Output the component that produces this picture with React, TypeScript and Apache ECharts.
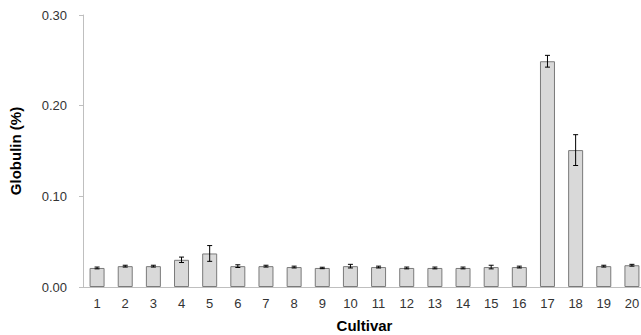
import React, { useEffect, useRef } from "react";
import * as echarts from "echarts";

const categories = ["1","2","3","4","5","6","7","8","9","10","11","12","13","14","15","16","17","18","19","20"];
const means = [0.021,0.023,0.023,0.030,0.037,0.023,0.023,0.022,0.021,0.023,0.022,0.021,0.021,0.021,0.022,0.022,0.249,0.151,0.023,0.024];
const errors = [0.001,0.001,0.001,0.003,0.0087,0.0015,0.001,0.001,0.0008,0.002,0.001,0.001,0.001,0.001,0.002,0.001,0.0065,0.017,0.001,0.001];
const yTicks = [0, 0.1, 0.2, 0.3];

export default function App() {
  const ref = useRef<HTMLDivElement>(null);
  useEffect(() => {
    if (!ref.current) return;
    const chart = echarts.init(ref.current, undefined, { renderer: "svg" });
    const errData = means.map((m, i) => [i, m - errors[i], m + errors[i]]);
    const font = "Liberation Sans, Arial, sans-serif";
    chart.setOption({
      animation: false,
      backgroundColor: "#ffffff",
      textStyle: { fontFamily: font },
      grid: { left: 83, top: 15, bottom: 48, right: -5, outerBoundsMode: "none", containLabel: false },
      xAxis: {
        type: "category",
        data: categories,
        name: "Cultivar",
        nameLocation: "middle",
        nameGap: 31,
        nameTextStyle: { fontWeight: "bold", fontSize: 15, color: "#000", fontFamily: font },
        axisLine: { lineStyle: { color: "#bfbfbf", width: 1 } },
        axisTick: { show: false },
        axisLabel: { color: "#333", fontSize: 13, margin: 10, fontFamily: font },
      },
      yAxis: {
        type: "value",
        min: 0,
        max: 0.3,
        interval: 0.1,
        name: "Globulin (%)",
        nameLocation: "middle",
        nameGap: 60,
        nameRotate: 90,
        nameTextStyle: { fontWeight: "bold", fontSize: 15, color: "#000", fontFamily: font },
        axisLine: { show: true, lineStyle: { color: "#bfbfbf", width: 1 } },
        axisTick: { show: true, length: 4, lineStyle: { color: "#bfbfbf" } },
        splitLine: { show: false },
        axisLabel: {
          color: "#333",
          fontSize: 13,
          margin: 16,
          fontFamily: font,
          formatter: (v: number) => {
            const t = yTicks.find((x) => Math.abs(x - v) < 1e-9);
            return (t ?? v).toFixed(2);
          },
        },
      },
      series: [
        {
          type: "bar",
          data: means,
          barWidth: 15,
          itemStyle: { color: "#d9d9d9", borderColor: "#7a7a7a", borderWidth: 1 },
        },
        {
          type: "custom",
          data: errData,
          z: 10,
          renderItem: (params: any, api: any) => {
            const x = api.value(0);
            const lo = api.coord([x, api.value(1)]);
            const hi = api.coord([x, api.value(2)]);
            const cap = 2.5;
            const style = { stroke: "#000", lineWidth: 1 };
            return {
              type: "group",
              children: [
                { type: "line", shape: { x1: hi[0], y1: hi[1], x2: lo[0], y2: lo[1] }, style },
                { type: "line", shape: { x1: hi[0] - cap, y1: hi[1], x2: hi[0] + cap, y2: hi[1] }, style },
                { type: "line", shape: { x1: lo[0] - cap, y1: lo[1], x2: lo[0] + cap, y2: lo[1] }, style },
              ],
            };
          },
        },
      ],
    });
    return () => chart.dispose();
  }, []);
  return (
    <div
      ref={ref}
      style={{ position: "fixed", left: 0, top: 0, width: 641, height: 335, background: "#fff" }}
    />
  );
}
